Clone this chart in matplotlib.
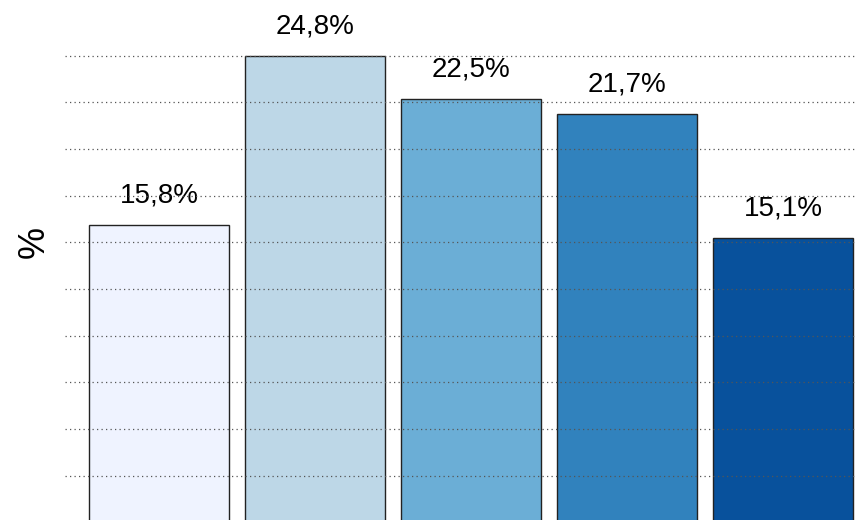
import matplotlib
matplotlib.use("Agg")
import matplotlib.pyplot as plt
import numpy as np

plt.rcParams['font.family'] = ['Liberation Sans', 'DejaVu Sans']

categories = ["A", "B", "C", "D", "E"]
values = [15.8, 24.8, 22.5, 21.7, 15.1]
labels = ["15,8%", "24,8%", "22,5%", "21,7%", "15,1%"]
colors = ["#eff3ff", "#bdd7e7", "#6baed6", "#3182bd", "#08519c"]

W, H = 856, 520
fig = plt.figure(figsize=(W / 100, H / 100), dpi=100)
ax = fig.add_axes([65 / W, 0, 1 - 65 / W, 1])

x = np.arange(len(categories))
bars = ax.bar(x, values, width=0.9, color=colors, edgecolor="#222222", linewidth=1.0, zorder=2)

for xi, v, lab in zip(x, values, labels):
    ax.annotate(lab, (xi, v), xytext=(0, 16), textcoords="offset points",
                ha="center", va="baseline", fontsize=20, color="black")

gridvals = np.linspace(0, max(values), 11)[1:]
for g in gridvals:
    ax.axhline(g, color="#555555", linewidth=0.9, linestyle=(0, (1, 2.6)), zorder=3)

px_per_unit = 46.7 / (max(values) / 10)
zero_px = 522.5
ax.set_ylim((zero_px - H) / px_per_unit, zero_px / px_per_unit)
ax.set_xlim(-(159 - 65) / 156, (856 - 159) / 156)

ax.set_xticks([])
ax.set_yticks([])
for s in ax.spines.values():
    s.set_visible(False)

fig.text(34 / W, 1 - 242 / H, "%", rotation=90, fontsize=26, ha="center", va="center", color="black")

fig.savefig("out.png", dpi=100)
